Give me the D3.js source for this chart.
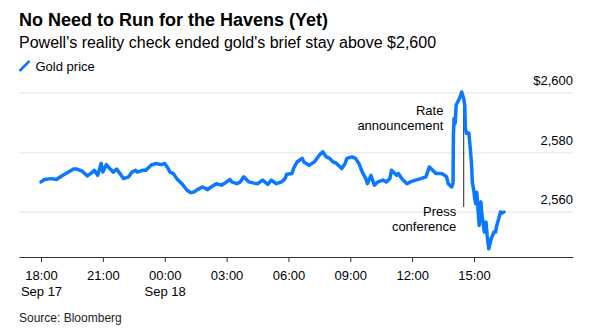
<!DOCTYPE html>
<html>
<head>
<meta charset="utf-8">
<script src="https://cdn.jsdelivr.net/npm/d3@7"></script>
<style>
  html, body { margin: 0; padding: 0; background: #fff; }
  svg { display: block; font-family: "Liberation Sans", Arial, Helvetica, sans-serif; }
</style>
</head>
<body>
<svg id="chart" width="589" height="331"></svg>
<script>
// Gold spot price, Sep 17 18:00 to Sep 18 ~16:30 (ET)
const times = [
  "2024-09-17T18:00","2024-09-17T18:10","2024-09-17T18:30","2024-09-17T18:45","2024-09-17T19:00",
  "2024-09-17T19:20","2024-09-17T19:35","2024-09-17T19:45","2024-09-17T20:00","2024-09-17T20:15",
  "2024-09-17T20:30","2024-09-17T20:35","2024-09-17T20:45","2024-09-17T20:55","2024-09-17T21:00",
  "2024-09-17T21:10","2024-09-17T21:20","2024-09-17T21:30","2024-09-17T21:40","2024-09-17T21:50",
  "2024-09-17T22:00","2024-09-17T22:15","2024-09-17T22:25","2024-09-17T22:35","2024-09-17T22:40",
  "2024-09-17T22:55","2024-09-17T23:05","2024-09-17T23:20","2024-09-17T23:35","2024-09-17T23:50",
  "2024-09-18T00:00","2024-09-18T00:10","2024-09-18T00:15","2024-09-18T00:25","2024-09-18T00:35",
  "2024-09-18T00:50","2024-09-18T01:05","2024-09-18T01:15","2024-09-18T01:25","2024-09-18T01:35",
  "2024-09-18T01:50","2024-09-18T02:05","2024-09-18T02:15","2024-09-18T02:30","2024-09-18T02:45",
  "2024-09-18T02:55","2024-09-18T03:10","2024-09-18T03:15","2024-09-18T03:30","2024-09-18T03:40",
  "2024-09-18T03:50","2024-09-18T04:05","2024-09-18T04:20","2024-09-18T04:30","2024-09-18T04:45",
  "2024-09-18T05:00","2024-09-18T05:10","2024-09-18T05:25","2024-09-18T05:40","2024-09-18T05:50",
  "2024-09-18T05:55","2024-09-18T06:10","2024-09-18T06:15","2024-09-18T06:25","2024-09-18T06:40",
  "2024-09-18T06:45","2024-09-18T07:00","2024-09-18T07:15","2024-09-18T07:30","2024-09-18T07:40",
  "2024-09-18T07:50","2024-09-18T08:00","2024-09-18T08:10","2024-09-18T08:20","2024-09-18T08:35",
  "2024-09-18T08:45","2024-09-18T08:50","2024-09-18T09:05","2024-09-18T09:15","2024-09-18T09:25",
  "2024-09-18T09:35","2024-09-18T09:45","2024-09-18T09:50","2024-09-18T10:00","2024-09-18T10:10",
  "2024-09-18T10:20","2024-09-18T10:35","2024-09-18T10:45","2024-09-18T10:55","2024-09-18T11:00",
  "2024-09-18T11:15","2024-09-18T11:20","2024-09-18T11:30","2024-09-18T11:45","2024-09-18T11:55",
  "2024-09-18T12:10","2024-09-18T12:25","2024-09-18T12:40","2024-09-18T12:50","2024-09-18T13:05",
  "2024-09-18T13:10","2024-09-18T13:25","2024-09-18T13:35","2024-09-18T13:40","2024-09-18T13:45",
  "2024-09-18T13:55","2024-09-18T13:59","2024-09-18T14:00","2024-09-18T14:02","2024-09-18T14:05",
  "2024-09-18T14:08","2024-09-18T14:15","2024-09-18T14:20","2024-09-18T14:24","2024-09-18T14:30",
  "2024-09-18T14:33","2024-09-18T14:35","2024-09-18T14:38","2024-09-18T14:45","2024-09-18T14:50",
  "2024-09-18T14:53","2024-09-18T14:55","2024-09-18T15:00","2024-09-18T15:02","2024-09-18T15:05",
  "2024-09-18T15:08","2024-09-18T15:15","2024-09-18T15:20","2024-09-18T15:23","2024-09-18T15:30",
  "2024-09-18T15:35","2024-09-18T15:38","2024-09-18T15:43","2024-09-18T15:50","2024-09-18T15:52",
  "2024-09-18T15:58","2024-09-18T16:03","2024-09-18T16:05","2024-09-18T16:12","2024-09-18T16:17",
  "2024-09-18T16:20","2024-09-18T16:27"
];
const prices = [
  2570.2,2571.0,2571.3,2571.0,2572.2,
  2573.5,2574.5,2574.5,2573.8,2572.2,
  2573.5,2574.1,2572.4,2576.4,2573.5,
  2576.0,2574.7,2573.5,2574.5,2573.0,
  2571.3,2571.9,2573.5,2574.1,2573.5,
  2574.1,2574.1,2575.8,2576.4,2576.0,
  2576.4,2574.7,2573.5,2573.0,2571.3,
  2569.6,2567.4,2566.6,2566.8,2567.6,
  2568.5,2567.6,2568.5,2569.6,2569.1,
  2569.8,2571.0,2570.2,2569.6,2570.2,
  2571.9,2570.2,2569.8,2569.6,2570.8,
  2569.4,2570.8,2569.6,2570.2,2571.3,
  2572.8,2573.0,2574.7,2576.9,2578.1,
  2576.9,2575.8,2576.9,2579.2,2580.3,
  2578.6,2578.1,2576.9,2576.4,2574.7,
  2576.4,2578.1,2578.6,2578.1,2576.4,
  2573.5,2571.3,2569.6,2572.4,2569.1,
  2570.2,2570.8,2570.2,2571.3,2574.1,
  2572.4,2573.0,2571.3,2569.6,2570.2,
  2570.8,2571.3,2571.9,2575.2,2573.5,
  2573.0,2573.0,2572.4,2571.9,2569.6,
  2568.5,2569.8,2585.9,2591.5,2589.8,
  2596.0,2597.6,2598.8,2600.4,2598.2,
  2596.0,2588.1,2586.5,2586.6,2580.3,
  2575.8,2570.2,2566.8,2564.6,2562.9,
  2566.7,2555.6,2563.5,2559.0,2553.4,
  2556.7,2552.3,2547.8,2551.2,2551.7,
  2553.4,2553.4,2555.1,2557.9,2560.1,
  2559.7,2560.1
];

// Axis ticks
const xTickTimes = [
  "2024-09-17T18:00","2024-09-17T21:00","2024-09-18T00:00","2024-09-18T03:00",
  "2024-09-18T06:00","2024-09-18T09:00","2024-09-18T12:00","2024-09-18T15:00"
];
const xTickDays = ["Sep 17", "", "Sep 18", "", "", "", "", ""];
const yTickValues = [2560, 2580, 2600];
const yTickLabels = ["2,560", "2,580", "$2,600"];

// Event markers
const eventTimes = ["2024-09-18T14:00", "2024-09-18T14:30"];
const eventLabels = [["Rate", "announcement"], ["Press", "conference"]];

// Visible window of the axes
const xDomain = ["2024-09-17T16:56", "2024-09-18T19:48"];
const yDomain = [2545, 2604.4];

const parse = d3.timeParse("%Y-%m-%dT%H:%M");
const data = times.map((t, i) => ({ t: parse(t), v: prices[i] }));

const svg = d3.select("#chart");
const plotLeft = 19, plotRight = 573, plotTop = 80, plotBottom = 257;
const blue = "#0a78ff";

const x = d3.scaleTime().domain(xDomain.map(parse)).range([plotLeft, plotRight]);
const y = d3.scaleLinear().domain(yDomain).range([plotBottom, plotTop]);

// Title block
svg.append("text").attr("x", 19).attr("y", 25.5)
  .attr("font-size", 18).attr("font-weight", "bold").attr("fill", "#000")
  .text("No Need to Run for the Havens (Yet)");
svg.append("text").attr("x", 19).attr("y", 48.3)
  .attr("font-size", 16).attr("fill", "#000")
  .text("Powell's reality check ended gold's brief stay above $2,600");

// Legend
svg.append("line").attr("x1", 19.5).attr("y1", 71).attr("x2", 29.5).attr("y2", 61)
  .attr("stroke", blue).attr("stroke-width", 2.5);
svg.append("text").attr("x", 35.5).attr("y", 70.5)
  .attr("font-size", 13).attr("fill", "#000").text("Gold price");

// Gridlines and y labels
const gy = svg.append("g");
yTickValues.forEach((v, i) => {
  gy.append("line")
    .attr("x1", plotLeft).attr("x2", plotRight)
    .attr("y1", y(v)).attr("y2", y(v))
    .attr("stroke", "#ececec").attr("stroke-width", 1.5);
  gy.append("text")
    .attr("x", plotRight).attr("y", y(v) - 8)
    .attr("text-anchor", "end").attr("font-size", 13).attr("fill", "#000")
    .text(yTickLabels[i]);
});

// X axis
const xAxis = d3.axisBottom(x)
  .tickValues(xTickTimes.map(parse))
  .tickSizeInner(5).tickSizeOuter(0).tickPadding(6)
  .tickFormat(d3.timeFormat("%H:%M"));
const gx = svg.append("g").attr("transform", `translate(0,${plotBottom})`).call(xAxis);
gx.select(".domain").attr("stroke", "#333").attr("stroke-width", 1);
gx.selectAll(".tick line").attr("stroke", "#333");
gx.selectAll(".tick text")
  .attr("font-family", "Liberation Sans, Arial, sans-serif")
  .attr("font-size", 13).attr("fill", "#000").attr("dy", null).attr("y", 23)
  .each(function(d, i) {
    if (xTickDays[i]) {
      d3.select(this.parentNode).append("text")
        .attr("y", 38.5).attr("text-anchor", "middle")
        .attr("font-family", "Liberation Sans, Arial, sans-serif")
        .attr("font-size", 13).attr("fill", "#000")
        .text(xTickDays[i]);
    }
  });

// Event annotation leader lines
const ev = eventTimes.map(parse);
svg.append("line").attr("x1", x(ev[0])).attr("x2", x(ev[0]))
  .attr("y1", 132).attr("y2", 185).attr("stroke", "#222").attr("stroke-width", 1);
svg.append("line").attr("x1", x(ev[1])).attr("x2", x(ev[1]))
  .attr("y1", 103).attr("y2", 207).attr("stroke", "#222").attr("stroke-width", 1);

// Price line
const line = d3.line().x(d => x(d.t)).y(d => y(d.v));
svg.append("path").datum(data)
  .attr("d", line).attr("fill", "none")
  .attr("stroke", blue).attr("stroke-width", 3.5)
  .attr("stroke-linejoin", "round").attr("stroke-linecap", "round");

// Annotation labels (two lines each, right-aligned left of the leader)
const ann = svg.append("g").attr("font-size", 13).attr("fill", "#000").attr("text-anchor", "end");
ann.append("text").attr("x", x(ev[0]) - 10).attr("y", 115).text(eventLabels[0][0]);
ann.append("text").attr("x", x(ev[0]) - 10).attr("y", 130).text(eventLabels[0][1]);
ann.append("text").attr("x", x(ev[1]) - 7.5).attr("y", 216).text(eventLabels[1][0]);
ann.append("text").attr("x", x(ev[1]) - 7.5).attr("y", 231).text(eventLabels[1][1]);

// Source
svg.append("text").attr("x", 19).attr("y", 321.5)
  .attr("font-size", 12).attr("fill", "#222").text("Source: Bloomberg");
</script>
</body>
</html>
